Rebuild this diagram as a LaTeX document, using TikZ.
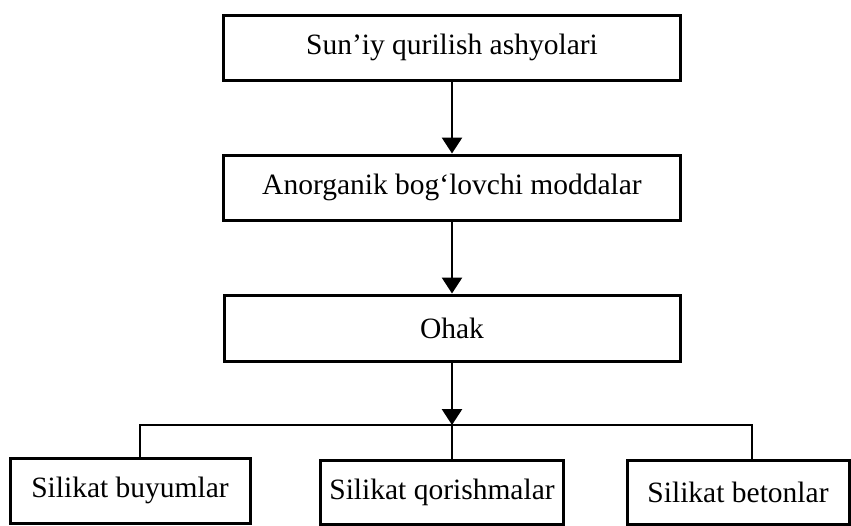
\documentclass[tikz,border=0pt]{standalone}
\usepackage{fontspec}
\setmainfont{Liberation Serif}
\usetikzlibrary{arrows.meta}
\begin{document}
\begin{tikzpicture}[x=1pt,y=-1pt,
  box/.style={draw, line width=3pt, inner sep=0pt, font=\fontsize{29.5}{34}\selectfont},
  conn/.style={line width=2.8pt},
  arr/.style={conn, -{Triangle[length=16pt,width=20pt]}}]
\useasboundingbox (0,0) rectangle (851,525);
\node[box, minimum width=457pt, minimum height=65pt] (a) at (452,47.5) {Sun’iy qurilish ashyolari};
\node[box, minimum width=457pt, minimum height=65pt] (b) at (452,187.5) {Anorganik bog‘lovchi moddalar};
\node[box, minimum width=456pt, minimum height=66pt] (c) at (452,328) {Ohak};
\node[box, minimum width=240pt, minimum height=65pt] (d) at (130,490.5) {Silikat buyumlar};
\node[box, minimum width=243pt, minimum height=64pt] (e) at (442,492) {Silikat qorishmalar};
\node[box, minimum width=222pt, minimum height=64pt] (f) at (738,492) {Silikat betonlar};
\coordinate (j) at (452,425);
\coordinate (jl) at (140,425);
\coordinate (jr) at (752,425);
\draw[arr] (a.south) -- (b.north);
\draw[arr] (b.south) -- (c.north);
\draw[arr] (c.south) -- (j);
\draw[conn] (jl |- d.north) -- (jl) -- (jr) -- (jr |- f.north);
\draw[conn] (j) -- (j |- e.north);
\end{tikzpicture}
\end{document}
